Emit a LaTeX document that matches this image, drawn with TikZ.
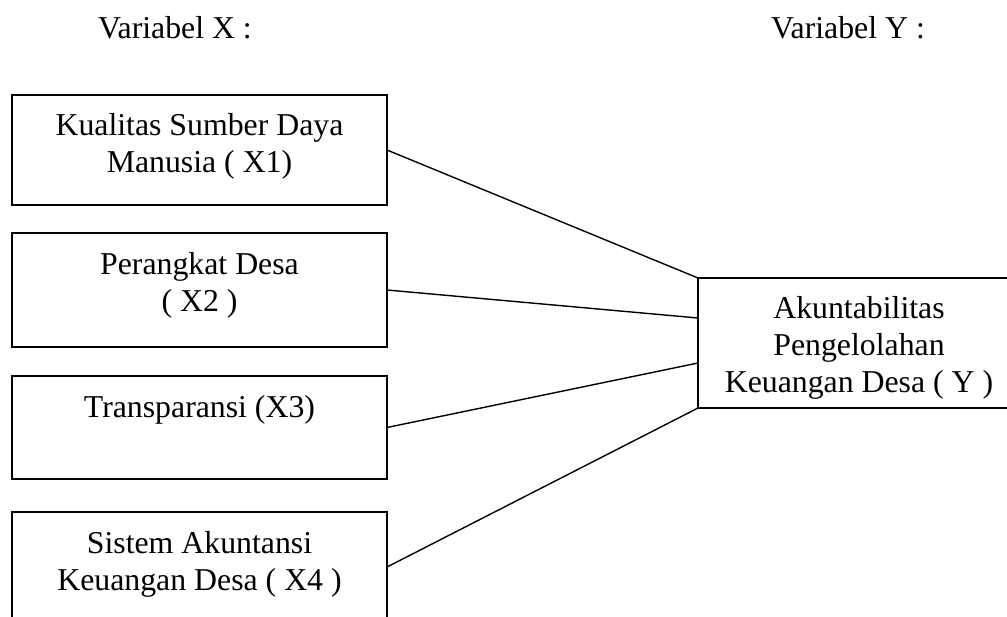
\documentclass[tikz,border=0pt]{standalone}
\usepackage{fontspec}
\setmainfont{Liberation Serif}
\usetikzlibrary{calc}
\tikzset{
  box/.style={draw=black, line width=1.3pt, rectangle, inner sep=0pt, outer sep=0pt},
  txt/.style={inner sep=0pt, anchor=base, font=\fontsize{31.8}{36.6}\selectfont},
  link/.style={draw=black, line width=1.4pt}
}
\begin{document}
\begin{tikzpicture}[x=1pt,y=-1pt]
\useasboundingbox (0,0) rectangle (1007,616);
\clip (0,0) rectangle (1007,616);
% headings
\node[txt] (hx) at (175,38) {Variabel X :};
\node[txt] (hy) at (848,38) {Variabel Y :};
% boxes
\node[box, minimum width=375pt, minimum height=110pt] (x1) at (199.5,150) {};
\node[box, minimum width=375pt, minimum height=114pt] (x2) at (199.5,290) {};
\node[box, minimum width=375pt, minimum height=103pt] (x3) at (199.5,427.5) {};
\node[box, minimum width=375pt, minimum height=110pt] (x4) at (199.5,567) {};
\node[box, minimum width=314pt, minimum height=130pt] (y) at (855,343) {};
% texts
\node[txt] (t1a) at (199.5,135) {Kualitas Sumber Daya};
\node[txt] (t1b) at (199.5,172) {Manusia ( X1)};
\node[txt] (t2a) at (199.5,274) {Perangkat Desa};
\node[txt] (t2b) at (199.5,311) {( X2 )};
\node[txt] (t3a) at (199.5,417) {Transparansi (X3)};
\node[txt] (t4a) at (199.5,553) {Sistem Akuntansi};
\node[txt] (t4b) at (199.5,590) {Keuangan Desa ( X4 )};
\node[txt] (tya) at (859,318) {Akuntabilitas};
\node[txt] (tyb) at (859,355) {Pengelolahan};
\node[txt] (tyc) at (859,392) {Keuangan Desa ( Y )};
% connectors
\draw[link] (x1.east) -- (y.north west);
\draw[link] (x2.east) -- ($(y.west)+(0,-25)$);
\draw[link] (x3.east) -- ($(y.west)+(0,20)$);
\draw[link] (x4.east) -- (y.south west);
\end{tikzpicture}
\end{document}
